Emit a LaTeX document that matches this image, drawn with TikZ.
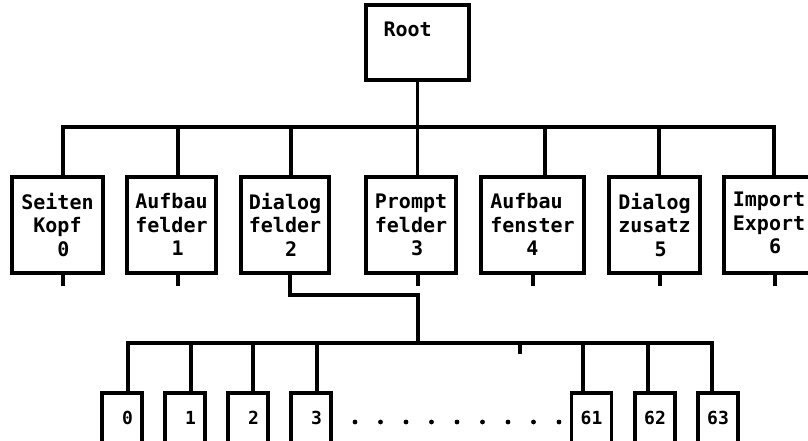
\documentclass[tikz,border=0pt]{standalone}
\usepackage{fontspec}
\setmainfont{DejaVu Sans Mono}
\begin{document}
\begin{tikzpicture}[x=1pt,y=-1pt,
  conn/.style={line width=3.2pt},
  upbox/.style={draw, line width=3.2pt, inner sep=0pt, minimum height=96pt, align=left,
    font=\fontsize{20}{23.5}\selectfont\bfseries},
  rootbox/.style={draw, line width=3.2pt, inner sep=0pt, minimum width=103pt, minimum height=75pt},
  roottext/.style={inner sep=0pt, anchor=base west, font=\fontsize{20}{23.5}\selectfont\bfseries},
  lowbox/.style={draw, line width=3.2pt, inner sep=0pt, minimum width=40pt, minimum height=50pt,
    font=\fontsize{18}{20}\selectfont\bfseries},
  dotmark/.style={fill=black}]
\useasboundingbox (0,0) rectangle (808,441);

% root
\node[rootbox] (root) at (417.5,42.5) {};
\node[roottext] (rootlabel) at ([xshift=19pt,yshift=-33pt]root.north west) {Root};

% upper boxes
\node[upbox, minimum width=91pt]  (b0) at (57.5,225) {Seiten\\\phantom{S}Kopf\\\phantom{Sei}0};
\node[upbox, minimum width=89pt]  (b1) at (171.5,225) {Aufbau\\felder\\\phantom{Auf}1};
\node[upbox, minimum width=88pt]  (b2) at (285,225) {Dialog\\felder\\\phantom{Dia}2};
\node[upbox, minimum width=90pt]  (b3) at (411,225) {Prompt\\felder\\\phantom{Pro}3};
\node[upbox, minimum width=103pt] (b4) at (532.5,225) {Aufbau\\fenster\\\phantom{Auf}4};
\node[upbox, minimum width=91pt]  (b5) at (654.5,225) {Dialog\\zusatz\\\phantom{Dia}5};
\node[upbox, minimum width=90pt]  (b6) at (769,225) {Import\\Export\\\phantom{Imp}6};

% lower boxes
\node[lowbox] (l0)  at (122,418)   {\phantom{0}0};
\node[lowbox] (l1)  at (185,418)   {\phantom{0}1};
\node[lowbox] (l2)  at (248,418)   {\phantom{0}2};
\node[lowbox] (l3)  at (311,418)   {\phantom{0}3};
\node[lowbox] (l61) at (591.5,418) {61};
\node[lowbox] (l62) at (655,418)   {62};
\node[lowbox] (l63) at (718,418)   {63};

% dots
\foreach \k in {0,...,8} \fill[dotmark] (355+\k*25.5,422) circle (2.4pt);

% top connector points
\coordinate (t0) at ([xshift=5.5pt]b0.north);
\coordinate (t1) at ([xshift=6.5pt]b1.north);
\coordinate (t2) at ([xshift=6pt]b2.north);
\coordinate (t3) at ([xshift=6.5pt]b3.north);
\coordinate (t4) at ([xshift=12.5pt]b4.north);
\coordinate (t5) at ([xshift=4.5pt]b5.north);
\coordinate (t6) at ([xshift=5pt]b6.north);
\coordinate (tbus) at (0,127);

\draw[conn] (root.south) -- (root.south |- tbus);
\draw[conn] (t0) -- (t0 |- tbus) -- (t6 |- tbus) -- (t6);
\foreach \t in {t1,t2,t3,t4,t5} \draw[conn] (\t) -- (\t |- tbus);

% bottom stubs
\coordinate (s0) at ([xshift=5.5pt]b0.south);
\coordinate (s1) at ([xshift=6.5pt]b1.south);
\coordinate (s2) at ([xshift=5pt]b2.south);
\coordinate (s3) at ([xshift=7pt]b3.south);
\coordinate (s4) at ([xshift=0.5pt]b4.south);
\coordinate (s5) at ([xshift=5.5pt]b5.south);
\coordinate (s6) at ([xshift=6pt]b6.south);
\foreach \s in {s0,s1,s3,s4,s5,s6} \draw[conn] (\s) -- ++(0,11);

% second level tree
\coordinate (elbow) at (418,295);
\coordinate (bbus) at (0,343);
\coordinate (tick) at (520,354);
\draw[conn] (s2) |- (elbow) -- (elbow |- bbus);

\coordinate (u0)  at ([xshift=6pt]l0.north);
\coordinate (u1)  at ([xshift=6pt]l1.north);
\coordinate (u2)  at ([xshift=5pt]l2.north);
\coordinate (u3)  at ([xshift=6pt]l3.north);
\coordinate (u61) at ([xshift=-8.5pt]l61.north);
\coordinate (u62) at ([xshift=-7pt]l62.north);
\coordinate (u63) at ([xshift=-6pt]l63.north);

\draw[conn] (u0) -- (u0 |- bbus) -- (u63 |- bbus) -- (u63);
\foreach \u in {u1,u2,u3,u61,u62} \draw[conn] (\u) -- (\u |- bbus);
\draw[conn] (tick |- bbus) -- (tick);
\end{tikzpicture}
\end{document}
